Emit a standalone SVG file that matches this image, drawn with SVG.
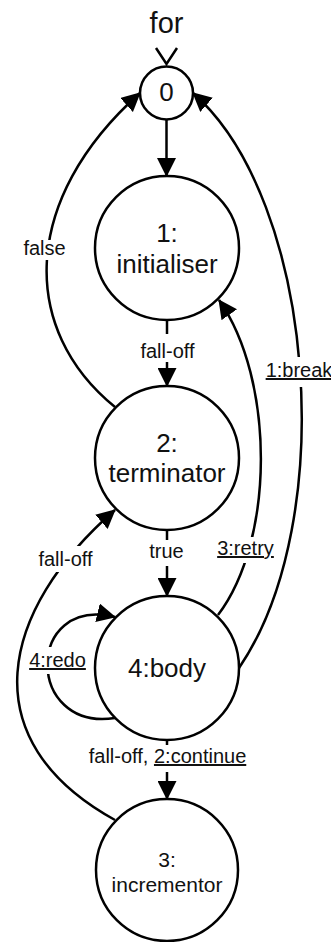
<svg xmlns="http://www.w3.org/2000/svg" width="331" height="942" viewBox="0 0 331 942">
  <style>
    .node { fill: #ffffff; stroke: #000000; stroke-width: 2.5; }
    .edge { fill: none; stroke: #000000; stroke-width: 2.5; marker-end: url(#arrow); }
    .name { font-family: "Liberation Sans", Arial, sans-serif; font-size: 26px; text-anchor: middle; fill: #111111; }
    .small { font-size: 21px; }
    .lbl { font-family: "Liberation Sans", Arial, sans-serif; font-size: 20px; text-anchor: middle; fill: #111111; }
    .u { text-decoration: underline; }
    .bg { fill: #ffffff; }
  </style>
  <defs>
    <marker id="arrow" viewBox="0 0 19 19" refX="18" refY="9.5" markerWidth="19" markerHeight="19" markerUnits="userSpaceOnUse" orient="auto">
      <path d="M0,0 L19,9.5 L0,19 z" fill="#000000"/>
    </marker>
  </defs>

  <!-- entry point -->
  <g id="entry">
    <text x="166.5" y="33" font-family="Liberation Sans, Arial, sans-serif" font-size="29" text-anchor="middle" fill="#111111">for</text>
    <path d="M156,48 L166.5,64 L177,48" fill="none" stroke="#000000" stroke-width="2.5"/>
  </g>

  <!-- transitions -->
  <g id="edges">
    <path class="edge" d="M166.5,119.5 L166.5,176"/>
    <path class="edge" d="M167,320 L167,386"/>
    <path class="edge" d="M167,530 L167,596"/>
    <path class="edge" d="M167,740 L167,799"/>
    <!-- false: terminator back to 0 -->
    <path class="edge" d="M115,407 C20,330 20,200 140,93"/>
    <!-- 1:break: body back to 0 -->
    <path class="edge" d="M239,668 C340,520 315,200 193,93"/>
    <!-- 3:retry: body back to initialiser -->
    <path class="edge" d="M218,615 C275,540 275,380 219,300"/>
    <!-- fall-off: incrementor back to terminator -->
    <path class="edge" d="M115,820 C-30,740 0,610 115,510"/>
    <!-- 4:redo: body loops on itself -->
    <path class="edge" d="M115,718 C25,732 25,595 115,617"/>
  </g>

  <!-- edge labels -->
  <g id="labels">
    <rect class="bg" x="24" y="240" width="42" height="20"/>
    <text class="lbl" x="44.5" y="255" font-size="17.5">false</text>
    <rect class="bg" x="136" y="334" width="63" height="28"/>
    <text class="lbl" x="167.5" y="358">fall-off</text>
    <rect class="bg" x="265" y="357" width="66" height="30"/>
    <text class="lbl u" x="299" y="377">1:break</text>
    <rect class="bg" x="215" y="537" width="61" height="26"/>
    <text class="lbl u" x="245.5" y="555">3:retry</text>
    <rect class="bg" x="146" y="540" width="40" height="26"/>
    <text class="lbl" x="166.5" y="558">true</text>
    <rect class="bg" x="35" y="546" width="61" height="26"/>
    <text class="lbl" x="65.5" y="566">fall-off</text>
    <rect class="bg" x="28" y="647" width="59" height="27"/>
    <text class="lbl u" x="57.5" y="667">4:redo</text>
    <rect class="bg" x="86" y="745" width="163" height="27"/>
    <text class="lbl" x="167.5" y="763">fall-off, <tspan class="u">2:continue</tspan></text>
  </g>

  <g id="n0">
    <circle class="node" cx="166.5" cy="93" r="26.5"/>
    <text class="name" x="166.5" y="101" font-size="25">0</text>
  </g>
  <g id="n1">
    <circle class="node" cx="167" cy="248" r="72"/>
    <text class="name" x="167" y="242">1:</text>
    <text class="name" x="167" y="273">initialiser</text>
  </g>
  <g id="n2">
    <circle class="node" cx="167" cy="458" r="72"/>
    <text class="name" x="167" y="452">2:</text>
    <text class="name" x="167" y="482">terminator</text>
  </g>
  <g id="n4">
    <circle class="node" cx="167" cy="668" r="72"/>
    <text class="name" x="167" y="677">4:body</text>
  </g>
  <g id="n3">
    <circle class="node" cx="167" cy="870" r="71"/>
    <text class="name small" x="167" y="867">3:</text>
    <text class="name small" x="167" y="892">incrementor</text>
  </g>
</svg>
